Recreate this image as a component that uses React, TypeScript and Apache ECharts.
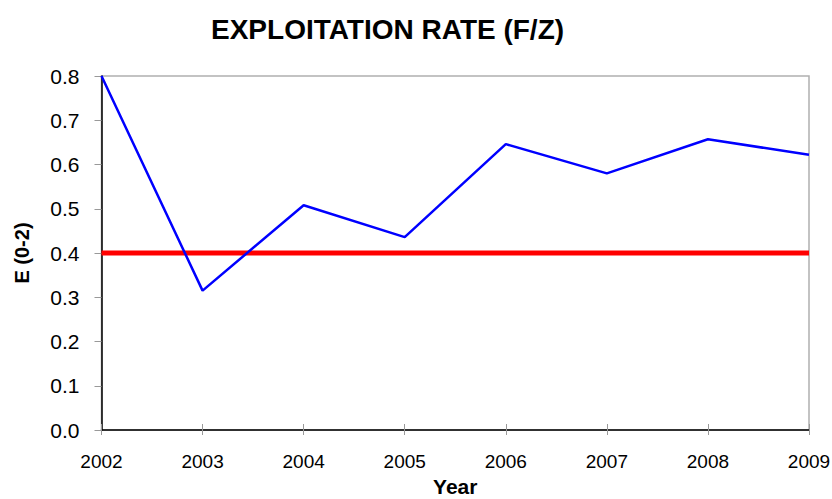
import React, { useEffect, useRef } from "react";
import * as echarts from "echarts";

const years = ["2002", "2003", "2004", "2005", "2006", "2007", "2008", "2009"];
const exploitation = [0.8, 0.315, 0.508, 0.436, 0.646, 0.58, 0.657, 0.622];
const reference = [0.4, 0.4, 0.4, 0.4, 0.4, 0.4, 0.4, 0.4];
const yTicks = [0, 0.1, 0.2, 0.3, 0.4, 0.5, 0.6, 0.7, 0.8];

const FONT = "'Liberation Sans', Arial, Helvetica, sans-serif";

export default function App() {
  const ref = useRef<HTMLDivElement>(null);
  useEffect(() => {
    if (!ref.current) return;
    const chart = echarts.init(ref.current, null, { renderer: "svg" });
    chart.setOption({
      animation: false,
      backgroundColor: "#ffffff",
      title: {
        text: "EXPLOITATION RATE (F/Z)",
        left: 206,
        top: 10,
        textStyle: { fontFamily: FONT, fontSize: 28, fontWeight: "bold", color: "#000" },
      },
      grid: {
        left: 101.5,
        right: 23,
        top: 76,
        bottom: 69,
        show: true,
        borderColor: "#b0b0b0",
        borderWidth: 1.5,
        containLabel: false,
        outerBoundsMode: "none",
      },
      xAxis: [
        {
          type: "category",
          data: years,
          boundaryGap: false,
          axisLine: { lineStyle: { color: "#000", width: 1.5 } },
          axisTick: { show: true, length: 5, lineStyle: { color: "#999" } },
          axisLabel: { fontFamily: FONT, fontSize: 19, color: "#000", margin: 22 },
          splitLine: { show: false },
          name: "Year",
          nameLocation: "middle",
          nameGap: 46,
          nameTextStyle: { fontFamily: FONT, fontSize: 21, fontWeight: "bold", color: "#000" },
        },
        {
          type: "category",
          data: years,
          boundaryGap: false,
          position: "bottom",
          axisLine: { show: false },
          axisTick: { show: true, inside: true, length: 6, lineStyle: { color: "#999" } },
          axisLabel: { show: false },
          splitLine: { show: false },
        },
      ],
      yAxis: {
        type: "value",
        min: 0,
        max: 0.8,
        interval: 0.1,
        axisLine: { show: true, lineStyle: { color: "#000", width: 1.5 } },
        axisTick: { show: true, length: 7, lineStyle: { color: "#999" } },
        axisLabel: {
          fontFamily: FONT,
          fontSize: 21,
          color: "#000",
          margin: 22,
          formatter: (v: number) => {
            const t = yTicks.find((x) => Math.abs(x - v) < 1e-9);
            return (t !== undefined ? t : v).toFixed(1);
          },
        },
        splitLine: { show: false },
        name: "E (0-2)",
        nameLocation: "middle",
        nameGap: 70,
        nameTextStyle: { fontFamily: FONT, fontSize: 20, fontWeight: "bold", color: "#000" },
      },
      series: [
        {
          type: "line",
          data: reference,
          symbol: "none",
          lineStyle: { color: "#ff0000", width: 5 },
          z: 2,
        },
        {
          type: "line",
          data: exploitation,
          symbol: "none",
          lineStyle: { color: "#0000ff", width: 2.5 },
          z: 3,
        },
      ],
    });
    return () => chart.dispose();
  }, []);
  return <div ref={ref} style={{ width: 832, height: 499, position: "absolute", left: 0, top: 0 }} />;
}
